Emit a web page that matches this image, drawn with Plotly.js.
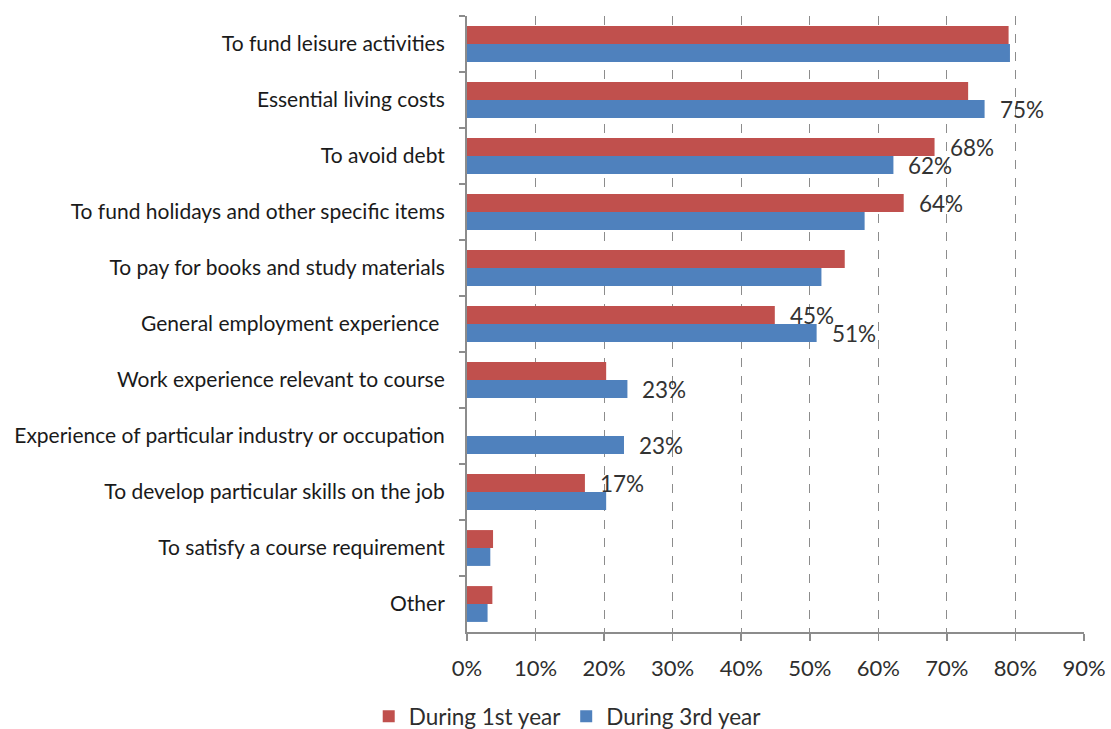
<!DOCTYPE html>
<html>
<head>
<meta charset="utf-8">
<script src="https://cdn.plot.ly/plotly-3.0.1.min.js"></script>
<style>html,body{margin:0;padding:0;background:#fff;}#chart{width:1111px;height:729px;}</style>
</head>
<body>
<div id="chart"></div>
<script>
const categories = [
  "To fund leisure activities",
  "Essential living costs",
  "To avoid debt",
  "To fund holidays and other specific items",
  "To pay for books and study materials",
  "General employment experience ",
  "Work experience relevant to course",
  "Experience of particular industry or occupation",
  "To develop particular skills on the job",
  "To satisfy a course requirement",
  "Other"
];
const year1 = [79.0, 73.1, 68.2, 63.7, 55.1, 44.9, 20.3, null, 17.2, 3.8, 3.7];
const year3 = [79.2, 75.5, 62.2, 58.0, 51.7, 51.0, 23.4, 22.9, 20.3, 3.4, 3.0];
const year1Labels = ["", "", "68%", "64%", "", "45%", "", "", "17%", "", ""];
const year3Labels = ["", "75%", "62%", "", "", "51%", "23%", "23%", "", "", ""];
const seriesNames = ["During 1st year", "During 3rd year"];
const colors = ["#C0504D", "#4F81BD"];
const xTickVals = [0, 10, 20, 30, 40, 50, 60, 70, 80, 90];
const xTickText = ["0%", "10%", "20%", "30%", "40%", "50%", "60%", "70%", "80%", "90%"];

const FONT = "Lato, 'Open Sans', sans-serif";

const traces = [
  {type: "bar", orientation: "h", name: seriesNames[0], y: categories, x: year1,
   marker: {color: colors[0]}, hoverinfo: "x+y"},
  {type: "bar", orientation: "h", name: seriesNames[1], y: categories, x: year3,
   marker: {color: colors[1]}, hoverinfo: "x+y"}
];

const annotations = [];
[[year1, year1Labels, 9], [year3, year3Labels, -9]].forEach(([vals, labs, ys]) => {
  labs.forEach((t, i) => {
    if (t) annotations.push({x: vals[i], y: categories[i], xref: "x", yref: "y",
      text: t, showarrow: false, xanchor: "left", yanchor: "middle",
      xshift: 13, yshift: ys, font: {family: FONT, size: 22.5, color: "#333"}});
  });
});

const layout = {
  width: 1111, height: 729,
  margin: {l: 467, r: 27, t: 16, b: 97, autoexpand: false},
  paper_bgcolor: "#ffffff", plot_bgcolor: "#ffffff",
  barmode: "group", bargap: 0.36, bargroupgap: 0,
  font: {family: FONT, color: "#222"},
  xaxis: {
    range: [0, 90], tickvals: xTickVals, ticktext: xTickText,
    showgrid: true, gridcolor: "#8c8c8c", gridwidth: 1, griddash: "dash",
    zeroline: false, showline: true, linecolor: "#8c8c8c", linewidth: 2,
    ticks: "outside", ticklen: 7, tickcolor: "#8c8c8c", tickwidth: 1.5,
    ticklabelstandoff: 9, automargin: false,
    tickfont: {family: FONT, size: 22, color: "#2e2e2e"}
  },
  yaxis: {
    type: "category", autorange: "reversed", automargin: false,
    showgrid: false, zeroline: false, showline: true, linecolor: "#8c8c8c", linewidth: 2,
    ticks: "outside", tickson: "boundaries", ticklen: 6, tickcolor: "#8c8c8c", tickwidth: 1.5,
    ticklabelstandoff: 16,
    tickfont: {family: FONT, size: 21, color: "#1a1a1a"}
  },
  showlegend: true,
  legend: {orientation: "h", xref: "container", yref: "container",
    x: 0.511, xanchor: "center", y: 0.017, yanchor: "middle",
    font: {family: FONT, size: 22.5, color: "#2e2e2e"}, traceorder: "normal"},
  annotations: annotations
};

Plotly.newPlot("chart", traces, layout, {displayModeBar: false, staticPlot: true});
</script>
</body>
</html>
